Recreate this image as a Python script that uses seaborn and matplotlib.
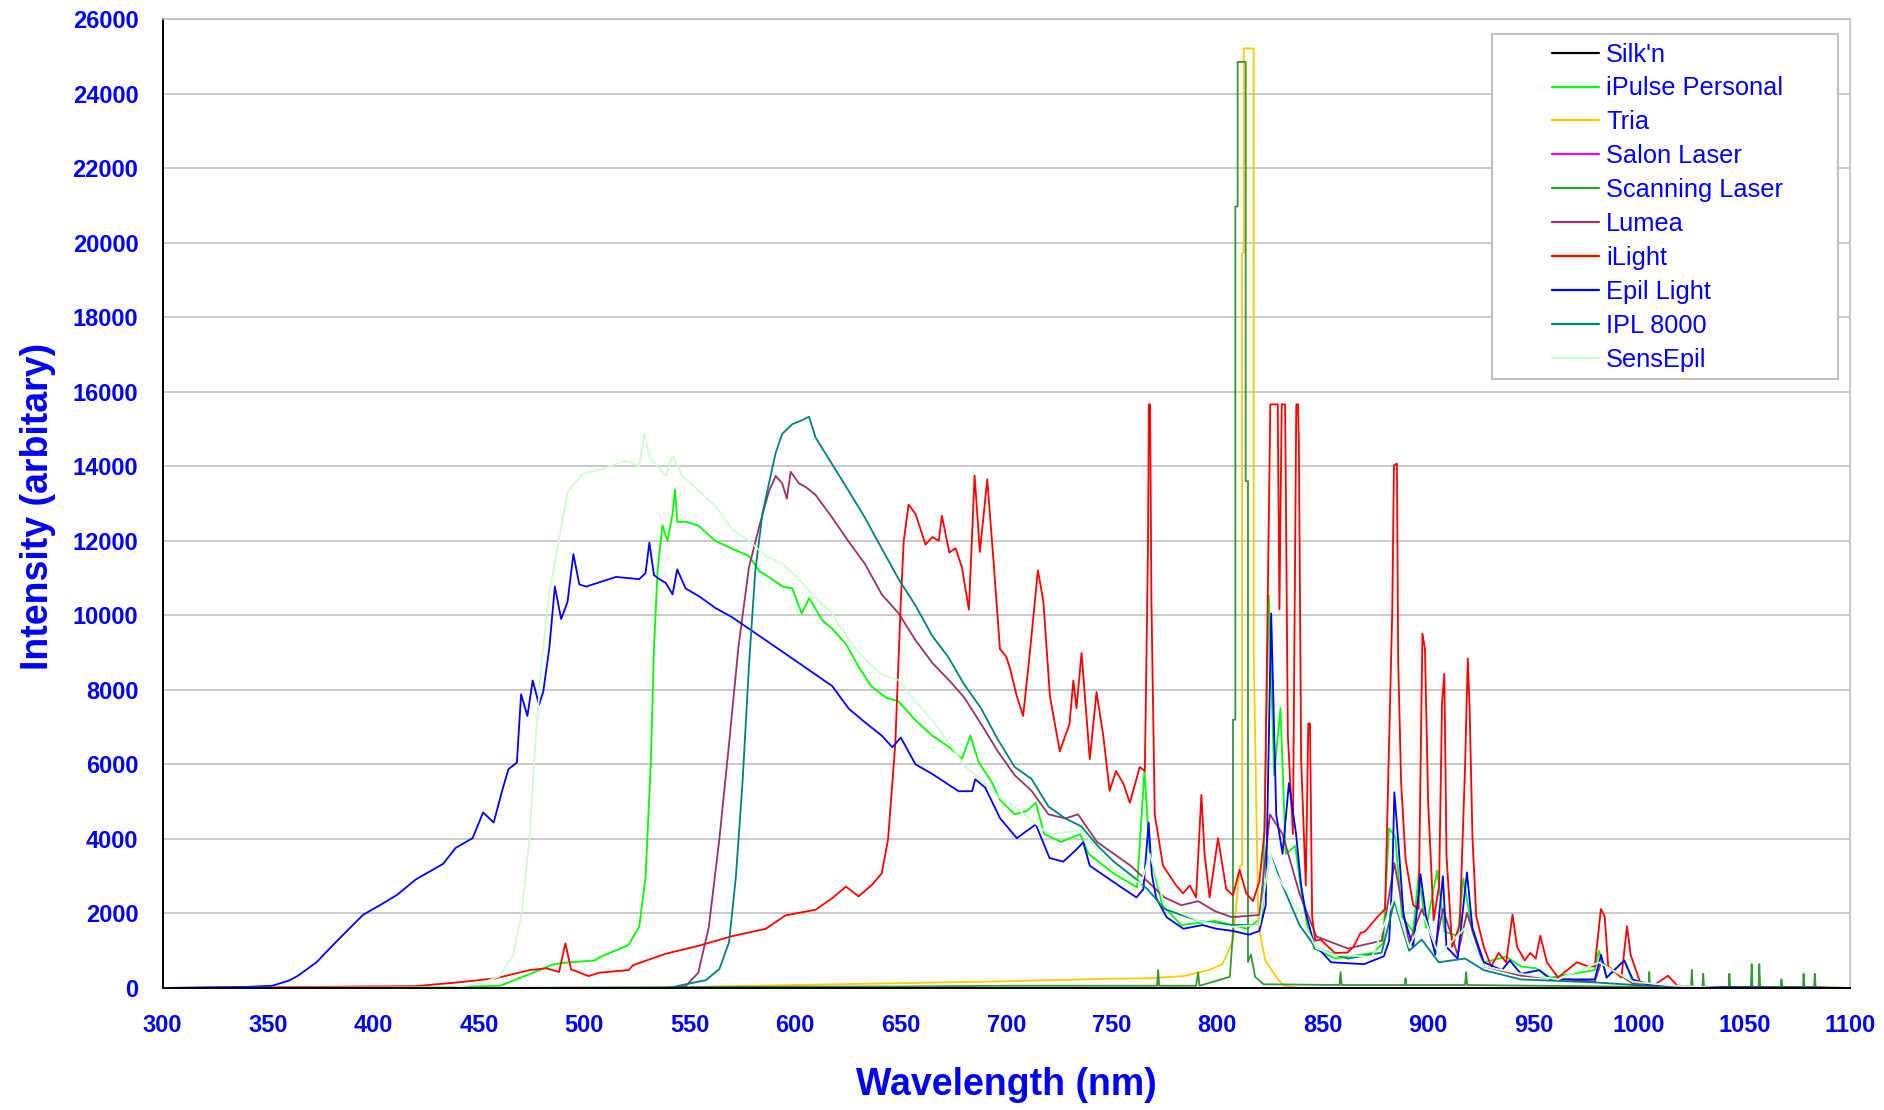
import pandas as pd
import seaborn as sns
import matplotlib.pyplot as plt
from matplotlib.lines import Line2D
from matplotlib.patches import Rectangle

sns.set_style("white")
plt.rcParams['font.family'] = ['Liberation Sans', 'DejaVu Sans']

BLUE_TXT = "#0000ff"

DEVICES = ["Silk'n", "iPulse Personal", "Tria", "Salon Laser", "Scanning Laser",
           "Lumea", "iLight", "Epil Light", "IPL 8000", "SensEpil"]
COLORS = ["#000000", "#00ff00", "#ffcc00", "#ff00ff", "#339933",
          "#993366", "#ff0000", "#0000ff", "#008080", "#ccffcc"]

# values (wavelength nm, intensity)
SILKN_WL = [300, 1100]
SILKN_I = [0, 0]

SALON_WL = [300, 1100]
SALON_I = [0, 0]

IPULSE_WL = [300, 440, 460, 474, 485, 491, 505, 507, 520, 521, 526, 529, 531.5, 533, 534.7, 537,
             539.4, 541.8, 543, 544, 548, 554, 562, 570, 578, 583, 586, 594, 598.6, 603, 606.5,
             613, 617.5, 624, 630, 636, 643, 649, 657, 665, 673, 679, 683, 687, 693, 697, 704,
             710, 714, 718, 726, 735, 739, 751, 762, 765.5, 768, 774, 783, 799, 814, 821.5,
             824.5, 827, 830, 832.5, 837, 840, 843, 846, 856, 873.5, 878.7, 881.4, 884.4, 887.6,
             892.9, 895.5, 899, 904.3, 907.8, 914, 916.7, 921, 926.4, 937, 944, 951, 958, 979,
             981, 984.6, 993, 997, 1014.5, 1040, 1100]
IPULSE_I = [0, 30, 60, 370, 630, 680, 740, 820, 1130, 1160, 1640, 2970, 6050, 9130, 11180, 12410,
            12000, 12720, 13380, 12510, 12510, 12410, 12000, 11790, 11590, 11180, 11080, 10770,
            10720, 10050, 10460, 9850, 9640, 9230, 8620, 8100, 7790, 7690, 7180, 6770, 6460, 6150,
            6770, 6050, 5540, 5050, 4660, 4760, 4970, 4130, 3920, 4130, 3600, 3070, 2700, 5820,
            3600, 2220, 1690, 1800, 1590, 1900, 10530, 5710, 7510, 3600, 3810, 2540, 1590, 1060,
            790, 940, 1200, 4280, 4070, 1920, 1510, 3050, 1610, 3150, 1510, 1400, 2940, 1510, 690,
            840, 580, 530, 280, 480, 1000, 280, 740, 170, 40, 0, 0]

TRIA_WL = [300, 540, 560, 600, 650, 700, 750, 768, 784, 796, 802.5, 807.5, 810.8, 811.8, 811.8,
           812.6, 812.6, 817.3, 817.3, 819.5, 822.8, 829, 832, 840, 1100]
TRIA_I = [0, 0, 40, 80, 130, 180, 250, 260, 320, 480, 640, 1270, 3280, 3300, 19720, 19720, 25210,
          25210, 9100, 1690, 740, 210, 50, 0, 0]

SCAN_WL = [300, 450, 560, 650, 700, 771.5, 772, 772.5, 790, 791, 791.6, 803, 806, 807.5, 807.5,
           808.6, 808.6, 809.7, 809.7, 813.5, 813.5, 814.6, 814.6, 816, 818, 822, 858, 858.5, 859,
           889, 889.3, 889.6, 917.5, 918, 918.5, 1004.5, 1004.8, 1005.2, 1024.7, 1025, 1025.4,
           1030, 1030.4, 1030.8, 1042.5, 1042.8, 1043.2, 1053, 1053.4, 1053.8, 1056.7, 1057,
           1057.4, 1067.2, 1067.5, 1067.9, 1077.7, 1078, 1078.4, 1083, 1083.3, 1083.7, 1100]
SCAN_I = [0, 0, 30, 40, 60, 60, 480, 60, 60, 420, 60, 250, 300, 1500, 7200, 7200, 20970, 20970,
          24850, 24850, 13600, 13600, 700, 900, 300, 100, 80, 430, 80, 80, 260, 80, 80, 430, 80,
          30, 430, 30, 30, 480, 30, 30, 380, 30, 30, 380, 30, 30, 640, 30, 30, 640, 30, 30, 230,
          30, 30, 380, 30, 30, 380, 30, 0]

LUMEA_WL = [300, 540, 548, 554, 559, 564, 568.6, 573, 578, 583, 587.5, 590.7, 593.8, 596, 597.8,
            601.7, 605, 609.6, 617.5, 625, 633, 641, 649, 657, 665, 673, 680, 688, 696, 704, 712,
            720, 728, 734, 743, 751, 759, 767, 775, 783, 791, 799, 807, 820, 825, 831, 839, 847,
            862, 878, 884, 891, 897, 903.4, 907, 914, 918.4, 926.4, 944, 979, 982, 997, 1014.5,
            1040, 1100]
LUMEA_I = [0, 0, 50, 410, 1640, 4000, 6560, 9130, 11280, 12410, 13330, 13740, 13540, 13130, 13850,
           13540, 13440, 13230, 12620, 12000, 11380, 10560, 10050, 9330, 8720, 8250, 7800, 7090,
           6350, 5710, 5290, 4660, 4550, 4660, 3920, 3600, 3280, 2860, 2430, 2220, 2330, 2060,
           1900, 1960, 4660, 4130, 2540, 1380, 1060, 1270, 3350, 1200, 2120, 1100, 2120, 890, 2020,
           580, 330, 170, 690, 120, 20, 0, 0]

ILIGHT_WL = [300, 420, 440, 450, 458, 466, 474, 482, 488, 491, 493.7, 502, 507, 521, 523, 538.6,
             554, 570, 586, 595.4, 609.6, 617.5, 624, 630, 636.4, 641, 644, 647.4, 650, 651.4,
             653.7, 657, 661.7, 665, 668, 669.5, 673, 676, 679, 682.3, 685, 687.5, 691, 694, 697,
             700, 701.8, 705, 708, 711, 715, 717.6, 720.7, 725.4, 730, 731.8, 733.3, 735.7, 738,
             739.6, 742.8, 746, 749, 752, 755.4, 758.6, 763.3, 765.7, 767.2, 767.6, 768.2, 768.8,
             770.4, 774.3, 780.6, 783.8, 787, 790, 792.5, 794, 796.4, 800.4, 804.3, 807.5, 810.6,
             813.8, 817, 820, 822.5, 825.2, 828.7, 829.5, 830.6, 832.2, 833.5, 835.9, 837.5, 838.3,
             838.7, 839.8, 842, 843.2, 844, 845, 846.5, 849, 855.8, 861.7, 864.6, 868, 870, 876,
             879.6, 883, 883.8, 885.2, 885.8, 887.2, 889.3, 892.9, 895.5, 897.3, 898.5, 900, 902.6,
             905.2, 906.6, 907.7, 908.7, 911.4, 915, 917.5, 918.8, 919.7, 921, 922.8, 926.4, 929.9,
             933.4, 937, 940, 942.2, 945.8, 948.4, 951, 953.2, 956.3, 961.6, 970.5, 975.7, 979,
             981.9, 983.7, 985.4, 991.6, 994.3, 996, 1000.4, 1007.5, 1013.7, 1018, 1030, 1100]
ILIGHT_I = [0, 50, 150, 210, 260, 370, 480, 530, 430, 1200, 500, 320, 410, 480, 610, 920, 1130,
            1390, 1590, 1950, 2100, 2410, 2720, 2460, 2770, 3080, 4000, 6560, 10360, 12000, 12970,
            12720, 11900, 12100, 12000, 12670, 11690, 11800, 11280, 10150, 13750, 11700, 13650,
            11430, 9100, 8890, 8570, 7830, 7300, 8890, 11210, 10370, 7830, 6350, 7090, 8250, 7510,
            8990, 7300, 6140, 7940, 6770, 5290, 5820, 5500, 4970, 5930, 5820, 11850, 15660, 15660,
            10470, 4660, 3280, 2750, 2540, 2750, 2430, 5180, 3600, 2430, 4020, 2650, 2490, 3170,
            2540, 2330, 2860, 4230, 15660, 15660, 10160, 15660, 15660, 6770, 4130, 15660, 15660,
            14710, 6140, 2750, 7090, 7100, 1920, 1270, 1300, 940, 950, 1100, 1480, 1510, 1910,
            2120, 10120, 14020, 14070, 8790, 5510, 3460, 2230, 2120, 9510, 9100, 4990, 1820, 2740,
            7660, 8430, 3560, 1100, 1710, 5920, 8840, 7460, 4070, 1920, 1100, 580, 940, 690, 1970,
            1100, 740, 940, 790, 1400, 690, 280, 690, 580, 580, 2120, 1920, 580, 280, 1660, 890,
            170, 90, 330, 70, 0, 0]

EPIL_WL = [300, 340, 352, 360, 364, 373, 382, 395, 403, 411, 420, 433, 439, 447, 452, 457, 461,
           464, 468, 470, 473, 475.5, 478.5, 480.5, 483.4, 486, 489, 492, 494.8, 497.6, 500.8,
           515, 526, 529, 530.8, 533, 535.5, 538.6, 541.8, 544, 548, 554.4, 562, 570, 586, 601.7,
           617.5, 625.4, 633, 641, 646, 650, 657, 665, 677.4, 683.8, 685.3, 690, 697, 705, 714,
           720.5, 727, 733, 736.5, 739.6, 752, 761.7, 765, 767.5, 769, 771, 776, 784, 793, 799.6,
           807.5, 815, 820, 823, 825.6, 828, 831, 834, 837.4, 839.8, 842, 846.5, 849, 854, 869.6,
           879, 881.5, 883, 884, 885.8, 888.4, 892.9, 896.4, 899, 903.4, 907, 908.7, 914, 918.4,
           921, 926.4, 935, 938.7, 944, 952.8, 958, 979, 982, 984.6, 993, 997, 1005.7, 1032, 1100]
EPIL_I = [0, 30, 60, 200, 320, 690, 1220, 1960, 2220, 2490, 2910, 3330, 3760, 4020, 4710, 4440,
          5290, 5870, 6050, 7880, 7300, 8250, 7600, 7950, 9130, 10770, 9900, 10360, 11640, 10830,
          10770, 11030, 10970, 11130, 11950, 11080, 10970, 10870, 10560, 11230, 10720, 10510,
          10200, 9950, 9330, 8720, 8100, 7490, 7130, 6770, 6460, 6720, 6000, 5740, 5280, 5280,
          5600, 5380, 4560, 4020, 4390, 3490, 3390, 3700, 3910, 3280, 2800, 2430, 2650, 4440,
          3070, 2430, 1900, 1590, 1690, 1590, 1530, 1430, 1530, 2220, 10050, 4650, 3600, 5500,
          4130, 2750, 2010, 1060, 1000, 690, 640, 850, 1270, 2940, 5250, 3970, 1920, 1100, 3050,
          1920, 890, 3000, 1100, 790, 3100, 1610, 690, 480, 740, 380, 480, 230, 230, 890, 280,
          740, 230, 70, 20, 0]

IPL_WL = [300, 540, 548, 557.6, 564, 568.6, 571.8, 575, 578, 581, 584.4, 587.5, 590.7, 593.8,
          598.6, 603, 606.5, 609.6, 617.5, 625.4, 633, 641, 649, 657, 665, 672.4, 680, 688, 696,
          704, 712, 720, 728, 735.5, 743.4, 751, 760.7, 767, 775, 791, 807, 820, 825, 831, 839,
          847, 862, 878, 884, 891, 897, 905, 917.5, 926.4, 944, 979, 1014.5, 1040, 1100]
IPL_I = [0, 0, 100, 210, 510, 1230, 2970, 5540, 8620, 11180, 12720, 13540, 14360, 14870, 15130,
         15230, 15330, 14770, 14050, 13330, 12620, 11790, 10970, 10260, 9440, 8890, 8150, 7510,
         6670, 5930, 5610, 4870, 4550, 4340, 3810, 3390, 2960, 2650, 2120, 1800, 1690, 1690, 3600,
         2750, 1690, 1060, 790, 950, 2330, 1000, 1300, 690, 790, 480, 230, 150, 20, 0, 0]

SENS_WL = [300, 440, 452, 459.8, 466, 470, 474, 477, 480, 483.4, 488, 492, 499, 507, 519.7, 526,
           528.4, 530.8, 538.6, 541.8, 546.5, 554.4, 562.3, 570, 578, 586, 594, 601.7, 609.6,
           617.5, 625.4, 633, 641, 649, 657, 665, 673, 680.6, 688.5, 696.4, 704, 720, 736, 751,
           764, 768, 775, 791, 807, 820, 825, 828, 839, 847, 855.8, 873.5, 884, 891, 898, 905,
           917.5, 926.4, 944, 961.6, 981, 997, 1014.5, 1040, 1100]
SENS_I = [0, 20, 150, 310, 850, 1900, 4020, 6770, 8890, 10600, 12060, 13300, 13790, 13900, 14150,
          14000, 14890, 14260, 13740, 14280, 13740, 13330, 12920, 12310, 12000, 11590, 11380,
          10970, 10460, 10050, 9330, 8820, 8410, 8260, 7690, 7180, 6560, 5950, 5540, 5130, 4870,
          4130, 4230, 3170, 2800, 3600, 2220, 1800, 1640, 1690, 3600, 3070, 2010, 1060, 890, 840,
          2430, 1100, 1920, 890, 1610, 580, 380, 230, 690, 170, 70, 0, 0]


def get_df_spectra():
    dct_series = {"Silk'n": (SILKN_WL, SILKN_I),
                  "iPulse Personal": (IPULSE_WL, IPULSE_I),
                  "Tria": (TRIA_WL, TRIA_I),
                  "Salon Laser": (SALON_WL, SALON_I),
                  "Scanning Laser": (SCAN_WL, SCAN_I),
                  "Lumea": (LUMEA_WL, LUMEA_I),
                  "iLight": (ILIGHT_WL, ILIGHT_I),
                  "Epil Light": (EPIL_WL, EPIL_I),
                  "IPL 8000": (IPL_WL, IPL_I),
                  "SensEpil": (SENS_WL, SENS_I)}
    lst_df = []
    for d in DEVICES:
        wl, val = dct_series[d]
        lst_df.append(pd.DataFrame({"wavelength": wl, "intensity": val, "device": d}))
    return pd.concat(lst_df, ignore_index=True)


def plot_spectra(df, fname_out):
    W, H = 1884, 1110
    fig = plt.figure(figsize=(W / 100, H / 100), dpi=100)
    ax = fig.add_axes([162.5 / W, 1 - 988 / H, (1850 - 162.5) / W, (988 - 19) / H])

    palette = dict(zip(DEVICES, COLORS))
    sns.lineplot(data=df, x="wavelength", y="intensity", hue="device", hue_order=DEVICES,
                 palette=palette, estimator=None, sort=False, linewidth=1.3, legend=False, ax=ax)

    ax.set_xlim(300, 1100)
    ax.set_ylim(0, 26000)
    ax.set_xticks(range(300, 1101, 50))
    ax.set_yticks(range(0, 26001, 2000))
    ax.set_xlabel("")
    ax.set_ylabel("")
    ax.yaxis.grid(True, color="#c0c0c0", linewidth=1.2)
    ax.xaxis.grid(False)
    ax.set_axisbelow(True)

    for s in ["left", "bottom"]:
        ax.spines[s].set_color("black")
        ax.spines[s].set_linewidth(1.4)
    for s in ["top", "right"]:
        ax.spines[s].set_color("#c0c0c0")
        ax.spines[s].set_linewidth(1.2)

    ax.tick_params(axis="both", direction="out", length=5.8, width=1.3, color="black",
                   labelcolor=BLUE_TXT, labelsize=17)
    ax.tick_params(axis="x", pad=13)
    ax.tick_params(axis="y", pad=11.5)
    for lab in ax.get_xticklabels() + ax.get_yticklabels():
        lab.set_fontweight("bold")

    fig.text(1006 / W, 1 - 1095 / H, "Wavelength (nm)", ha="center", va="baseline",
             fontsize=27, fontweight="bold", color=BLUE_TXT)
    fig.text(38 / W, 1 - 506 / H, "Intensity (arbitary)", ha="center", va="center",
             rotation=90, fontsize=27, fontweight="bold", color=BLUE_TXT)

    # legend box, Excel style
    fig.patches.append(Rectangle((1491.7 / W, 1 - 379 / H), (1838 - 1491.7) / W, (379 - 34.3) / H,
                                 transform=fig.transFigure, facecolor="white",
                                 edgecolor="#c0c0c0", linewidth=1.5, zorder=3))
    handles = [Line2D([0], [0], color=c, linewidth=1.6) for c in COLORS]
    leg = fig.legend(handles, DEVICES, loc="upper left", bbox_to_anchor=(1551.7 / W, 1 - 42.5 / H),
                     frameon=False, fontsize=18.3, handlelength=1.86, handletextpad=0.28,
                     labelspacing=0.39, borderpad=0, borderaxespad=0)
    leg.set_zorder(4)
    for t in leg.get_texts():
        t.set_color(BLUE_TXT)

    fig.savefig(fname_out, dpi=100)


def main():
    df = get_df_spectra()
    plot_spectra(df, "out.png")


if __name__ == "__main__":
    main()
